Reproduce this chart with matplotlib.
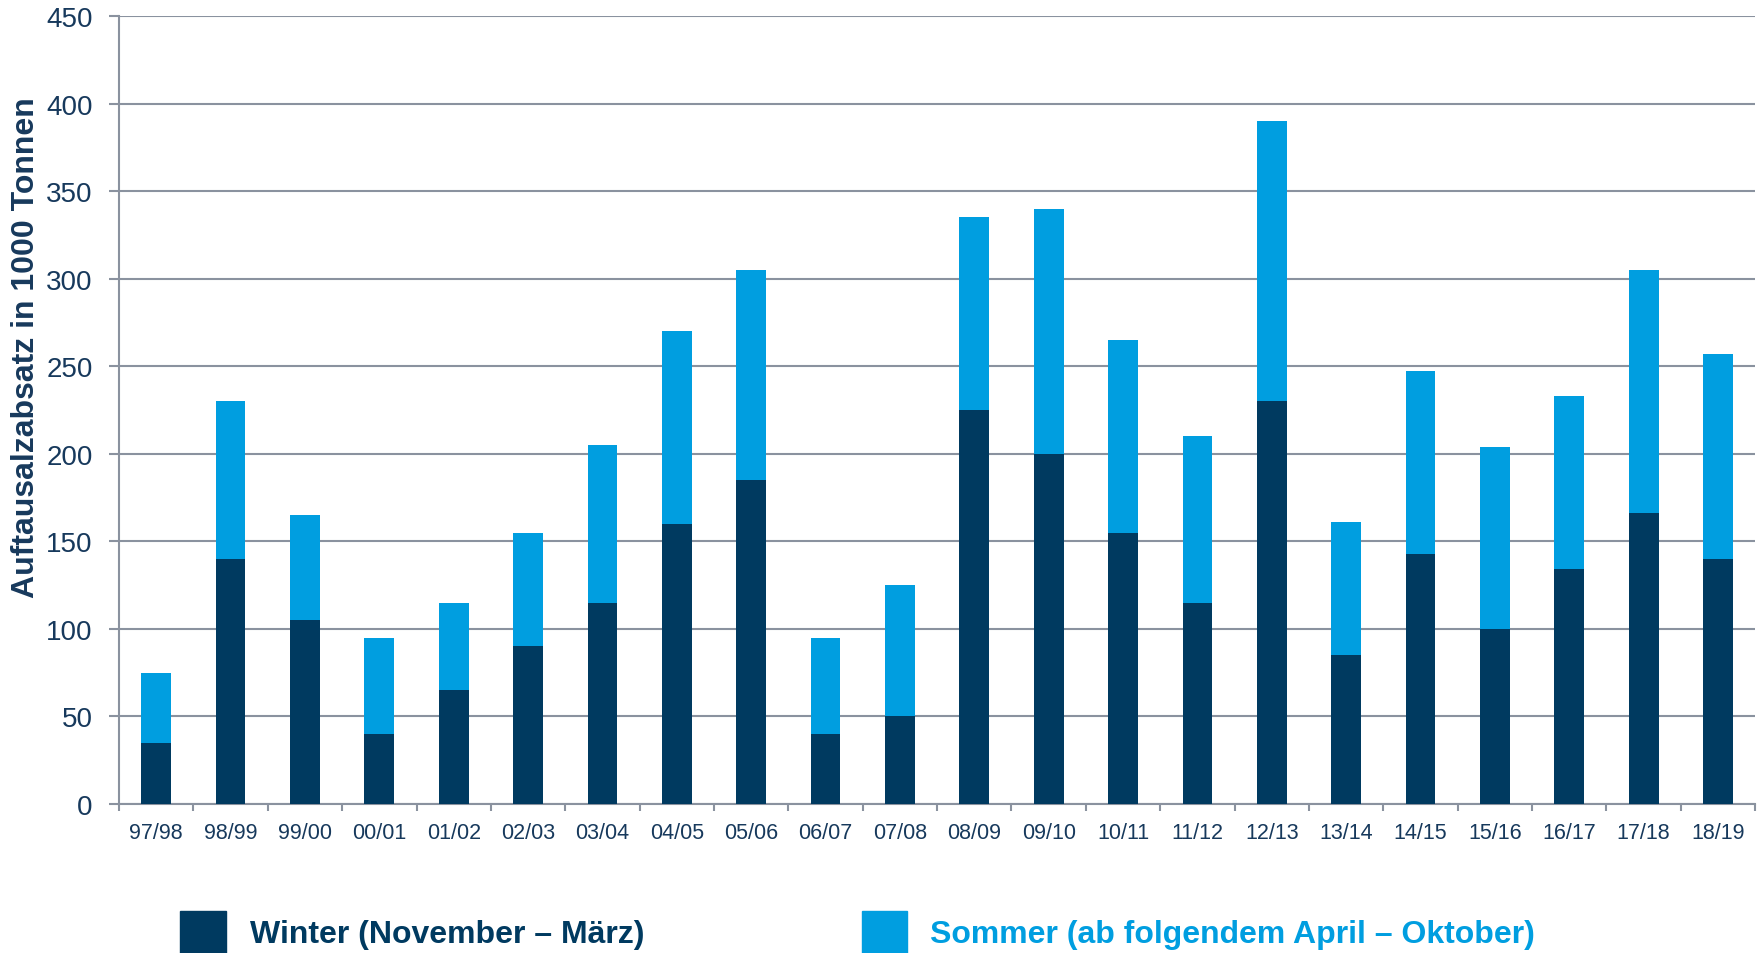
import matplotlib.pyplot as plt
import numpy as np

plt.rcParams['font.family'] = ['Liberation Sans', 'DejaVu Sans']

seasons = ['97/98', '98/99', '99/00', '00/01', '01/02', '02/03', '03/04', '04/05',
           '05/06', '06/07', '07/08', '08/09', '09/10', '10/11', '11/12', '12/13',
           '13/14', '14/15', '15/16', '16/17', '17/18', '18/19']
winter = [35, 140, 105, 40, 65, 90, 115, 160, 185, 40, 50, 225, 200, 155, 115, 230,
          85, 143, 100, 134, 166, 140]
total = [75, 230, 165, 95, 115, 155, 205, 270, 305, 95, 125, 335, 340, 265, 210, 390,
         161, 247, 204, 233, 305, 257]
sommer = [t - w for t, w in zip(total, winter)]

navy = '#003A60'
blue = '#009EE0'
grid_c = '#8A929F'
text_c = '#17395C'

fig = plt.figure(figsize=(17.64, 9.54), dpi=100)
ax = fig.add_axes([0.0675, 0.1562, 0.9275, 0.826])

x = np.arange(len(seasons))
ax.bar(x, winter, width=0.4, color=navy, zorder=3)
ax.bar(x, sommer, width=0.4, bottom=winter, color=blue, zorder=3)

ax.set_xlim(-0.5, len(seasons) - 0.5)
ax.set_ylim(0, 450)
ax.set_yticks(range(0, 451, 50))
ax.yaxis.grid(True, color=grid_c, linewidth=1.5, zorder=0)

ax.set_xticks(x)
ax.set_xticklabels(seasons, fontsize=15.5, color=text_c)
ax.set_xticks(np.arange(-0.5, len(seasons), 1), minor=True)
ax.tick_params(axis='x', which='major', length=0, pad=13)
ax.tick_params(axis='x', which='minor', length=5, width=1.5, color=grid_c)
ax.tick_params(axis='y', length=7, width=1.5, color=grid_c, pad=12,
               labelsize=20, labelcolor=text_c)

for side in ['top', 'right']:
    ax.spines[side].set_visible(False)
for side in ['left', 'bottom']:
    ax.spines[side].set_color(grid_c)
    ax.spines[side].set_linewidth(1.5)

fig.text(0.0150, 0.636, 'Auftausalzabsatz in 1000 Tonnen', rotation=90,
         fontsize=23, fontweight='bold', color=text_c, ha='center', va='center')

# legend drawn by hand below the chart
fig.patches.append(plt.Rectangle((180 / 1764, 0), 46 / 1764, 42 / 954,
                                 transform=fig.transFigure, color=navy))
fig.text(250 / 1764, 1 - 935 / 954, 'Winter (November – März)', fontsize=23,
         fontweight='bold', color=navy, va='center')
fig.patches.append(plt.Rectangle((862 / 1764, 0), 45 / 1764, 42 / 954,
                                 transform=fig.transFigure, color=blue))
fig.text(930 / 1764, 1 - 935 / 954, 'Sommer (ab folgendem April – Oktober)',
         fontsize=23, fontweight='bold', color=blue, va='center')

fig.savefig('out.png', dpi=100)
